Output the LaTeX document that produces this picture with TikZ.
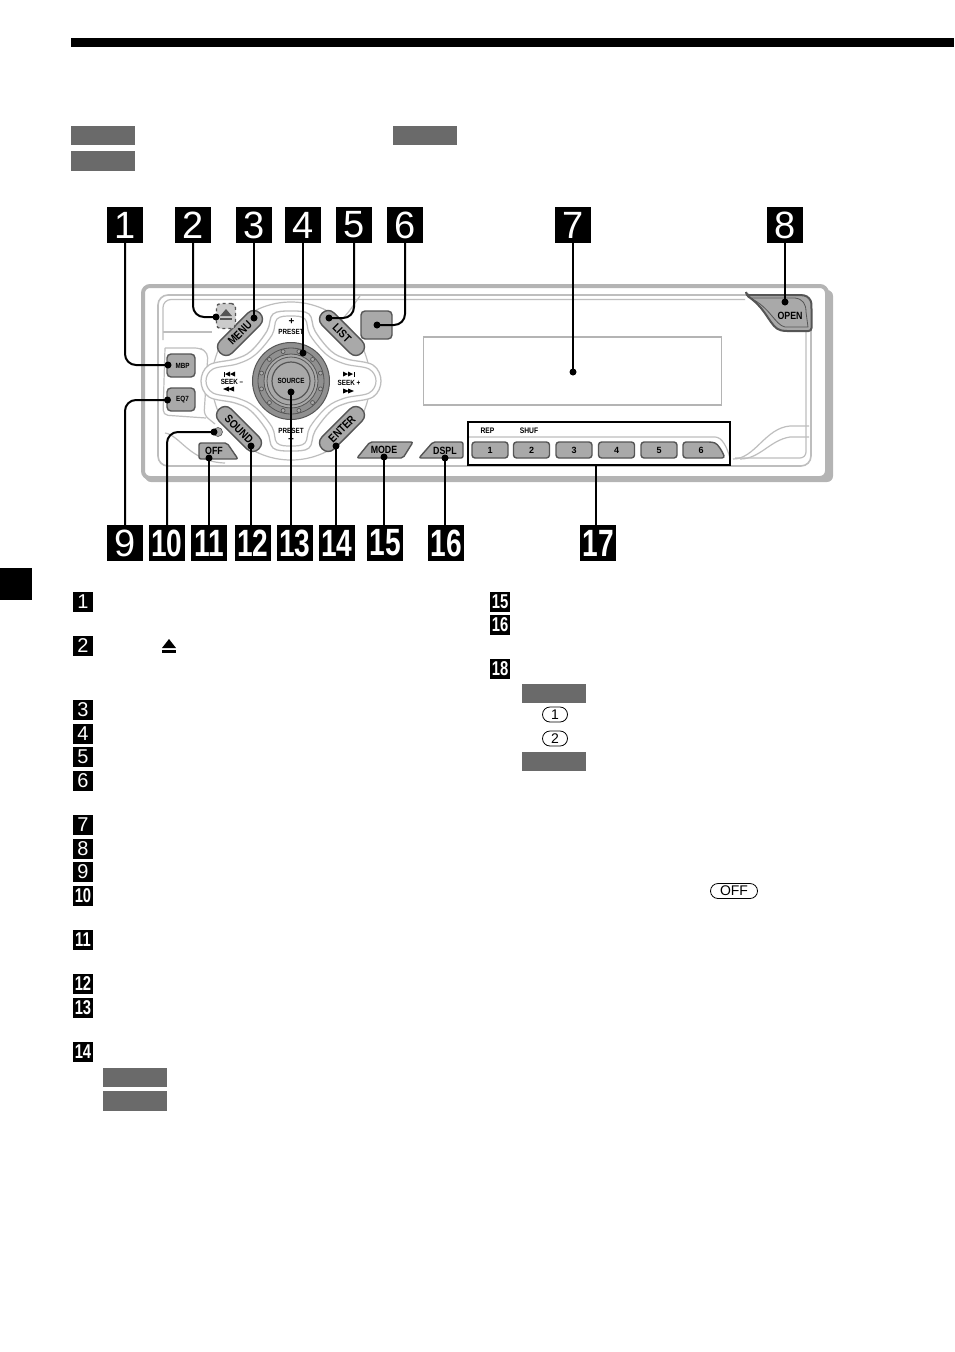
\documentclass[tikz,border=0pt]{standalone}
\usepackage{fontspec}
\setmainfont{Liberation Sans}
\usetikzlibrary{calc}
\definecolor{bandgrey}{HTML}{6A6A6A}
\definecolor{keygrey}{HTML}{A9A9A9}
\definecolor{keyedge}{HTML}{555555}
\definecolor{framegrey}{HTML}{B4B4B4}
\definecolor{linegrey}{HTML}{BEBEBE}
\tikzset{
  bigtag/.style={fill=black,text=white,inner sep=0pt,minimum size=36pt,font=\fontsize{38}{38}\selectfont},
  smalltag/.style={fill=black,text=white,inner sep=0pt,minimum size=20pt,font=\fontsize{20}{20}\selectfont},
  band/.style={fill=bandgrey,draw=none,inner sep=0pt,minimum width=64pt,minimum height=19pt},
  lead/.style={line width=2pt,black,rounded corners=11pt},
  dot/.style={circle,fill=black,inner sep=0pt,minimum size=7pt},
  trim/.style={draw=linegrey,line width=1.2pt},
  keyface/.style={fill=keygrey,draw=keyedge,line width=1.4pt},
  leaf/.style={keyface,rounded corners=8pt,minimum width=56pt,minimum height=17pt,inner sep=0pt,font=\bfseries\fontsize{11.5}{11.5}\selectfont},
  numkey/.style={keyface,rounded corners=3pt,minimum width=36pt,minimum height=16pt,inner sep=0pt,font=\bfseries\fontsize{9}{9}\selectfont},
  sidekey/.style={keyface,rounded corners=4pt,minimum width=28pt,minimum height=23pt,inner sep=0pt},
  keylabel/.style={inner sep=0pt,font=\bfseries\fontsize{10.5}{10.5}\selectfont},
  sidelabel/.style={inner sep=0pt,font=\bfseries\fontsize{7.5}{7.5}\selectfont},
  tiny/.style={inner sep=0pt,font=\bfseries\fontsize{7.5}{7.5}\selectfont},
  pill/.style={draw=black,line width=.8pt,rounded corners=7.5pt,minimum height=15pt,inner sep=0pt,font=\fontsize{14}{14}\selectfont}
}
\newcommand{\twod}[1]{\scalebox{.74}[1]{\bfseries #1}}
\newcommand{\nar}[1]{\scalebox{.84}[1]{#1}}
\begin{document}
\begin{tikzpicture}[x=1pt,y=-1pt]
\useasboundingbox (0,0) rectangle (954,1352);
% page furniture
\fill[black] (71,38) rectangle (954,47);
\fill[black] (0,568) rectangle (32,600);
\node[band] (b1) at (103,135.5) {};
\node[band] (b2) at (425,135.5) {};
\node[band,minimum height=20pt] (b3) at (103,161) {};
\node[band] (b4) at (135,1077.5) {};
\node[band,minimum height=20pt] (b5) at (135,1101) {};
\node[band] (b6) at (554,693.5) {};
\node[band] (b7) at (554,761.5) {};
% device frame
\fill[framegrey,rounded corners=6pt] (145,290) rectangle (833,482);
\draw[framegrey,line width=4pt,fill=white,rounded corners=7pt] (143,286) rectangle (827,478);
\draw[trim,line width=1.6pt,rounded corners=10pt] (158,295) rectangle (811,466);
\draw[trim,rounded corners=8pt] (163,340) -- (163,299.5) -- (745,299.5);
\draw[trim,rounded corners=6pt] (806,332) -- (806,458) -- (735,458);
% decorative trim at lower right
\draw[trim] (733,459) .. controls (755,459) and (765,428) .. (790,426) -- (809,426);
\draw[trim] (740,459) .. controls (760,459) and (770,440) .. (790,437) -- (809,437);
\draw[trim] (468,437) -- (715,437) .. controls (722,437) and (727,447) .. (730,458);
% left side trim
\draw[trim,rounded corners=5pt] (165,348) -- (200,348) -- (208,353) -- (204,415) -- (215,424);
\draw[trim] (163,332) -- (212,332);
\draw[trim,rounded corners=5pt] (165,348) -- (163,415) -- (206,418);
\draw[trim] (165,433) .. controls (180,435) and (190,462) .. (225,463);
\draw[trim] (360,296) .. controls (350,310) and (345,318) .. (338,322);
% central pad
\draw[trim,fill=white] (291,381) circle (79pt);
\draw[trim,fill=white,line width=1.3pt] plot[smooth cycle,tension=.6] coordinates {
 (291,311) (309,314) (315,331) (331,351) (347,359) (373,365) (381,381) (373,397) (347,403)
 (331,411) (315,431) (309,448) (291,451) (273,448) (267,431) (251,411) (235,403) (209,397)
 (201,381) (209,365) (235,359) (251,351) (267,331) (273,314)};
\draw[trim] plot[smooth cycle,tension=.6] coordinates {
 (291,316) (305,319) (310,335) (327,355) (345,364) (369,369) (376,381) (369,393) (345,398)
 (327,407) (310,427) (305,443) (291,446) (277,443) (272,427) (255,407) (237,398) (213,393)
 (206,381) (213,369) (237,364) (255,355) (272,335) (277,319)};
% dial
\draw[keyedge,line width=1pt,fill=keygrey!85!black] (291,381) circle (38.5pt);
\draw[keyedge,line width=.8pt] (291,381) circle (33pt);
\foreach \a in {15,45,...,345} \draw[keyedge,line width=.7pt,fill=keygrey] ($(291,381)+(\a:30.5pt)$) circle (2pt);
\draw[keyedge,line width=.8pt,fill=keygrey] (291,381) circle (27pt);
\draw[keyedge,line width=.8pt] (291,381) circle (24pt);
\node[circle,keyface,minimum size=38pt,inner sep=0pt,line width=1.2pt,tiny] (source) at (291,381) {\nar{SOURCE}};
% leaf keys
\node[leaf,rotate=45] (menu) at (240,333) {\nar{MENU}};
\node[leaf,rotate=-45] (list) at (342,333) {\nar{LIST}};
\node[leaf,rotate=-45] (sound) at (239,429) {\nar{SOUND}};
\node[leaf,rotate=45] (enter) at (342,429) {\nar{ENTER}};
\node[sidekey] (mbp) at (181,365.5) {};
\node[sidelabel] (mbpt) at (182.5,366) {\nar{MBP}};
\node[sidekey] (eq) at (181,399.5) {};
\node[sidelabel] (eqt) at (182.5,400) {\nar{EQ7}};
\node[keyface,rounded corners=4pt,minimum width=31pt,minimum height=28pt,inner sep=0pt] (sq) at (376.5,325) {};
% release, reset
\node[draw=keyedge,dashed,line width=1.4pt,fill=keygrey!60,rounded corners=4pt,minimum width=19pt,minimum height=25pt,inner sep=0pt] (rel) at (226,316) {};
\fill[keyedge] (220,316) -- (226,309) -- (232,316) -- cycle;
\fill[keyedge] (220,318) rectangle (232,320);
\node[circle,fill=keygrey,draw=keyedge,line width=.6pt,minimum size=9pt,inner sep=0pt] (reset) at (218,432) {};
% sloped keys
\draw[keyface,rounded corners=2pt] (199,443) -- (227,443) -- (238,459) -- (199,459) -- cycle;
\node[keylabel] (off) at (214,451) {\nar{OFF}};
\draw[keyface,rounded corners=2pt] (357,458) -- (370,442) -- (413,442) -- (403,458) -- cycle;
\node[keylabel] (mode) at (384,450) {\nar{MODE}};
\draw[keyface,rounded corners=2pt] (419,458) -- (433,442) -- (463,442) -- (463,458) -- cycle;
\node[keylabel] (dspl) at (445,450.5) {\nar{DSPL}};
\draw[keyface,line width=2pt,rounded corners=3pt] (746,295) -- (801,295) .. controls (808,296) and (811,300) .. (811.5,306) -- (811.5,331) -- (784,331) .. controls (770,328) and (768,310) .. cycle;
\draw[keyedge,line width=.8pt] (750,298) -- (795,298) .. controls (803,299) and (806,304) .. (806,312) -- (808,327) -- (785,327) .. controls (775,325) and (770,307) .. (750,298);
\node[keylabel] (open) at (790,315.5) {\nar{OPEN}};
% display
\node[draw=framegrey,line width=1.2pt,minimum width=298pt,minimum height=68pt,inner sep=0pt] (display) at (572.5,371) {};
% number keys
\node[numkey] (n1) at (490,450) {1};
\node[numkey] (n2) at (531.5,450) {2};
\node[numkey] (n3) at (574,450) {3};
\node[numkey] (n4) at (616.5,450) {4};
\node[numkey] (n5) at (659,450) {5};
\draw[keyface,rounded corners=3pt] (683,442) -- (712,442) .. controls (718,444) and (722,451) .. (725,458) -- (683,458) -- cycle;
\node[inner sep=0pt,font=\bfseries\fontsize{9}{9}\selectfont] (n6) at (701,450) {6};
\node[draw=black,line width=1.6pt,minimum width=262pt,minimum height=43pt,inner sep=0pt] (keys) at (599,443.5) {};
\node[tiny,font=\bfseries\fontsize{8}{8}\selectfont] (rep) at (487.5,431) {\nar{REP}};
\node[tiny,font=\bfseries\fontsize{8}{8}\selectfont] (shuf) at (529,431) {\nar{SHUF}};
% pad labels
\node[inner sep=0pt,font=\bfseries\fontsize{10}{10}\selectfont] (pplus) at (291.5,322) {+};
\node[tiny] (ptop) at (291,332) {\nar{PRESET}};
\node[tiny] (pbot) at (291,431) {\nar{PRESET}};
\node[inner sep=0pt,font=\bfseries\fontsize{10}{10}\selectfont] (pminus) at (291,440) {+};
\node[tiny] (sl) at (232,382) {\nar{SEEK –}};
\node[tiny] (sr) at (349,383) {\nar{SEEK +}};
\foreach \cx/\cy in {231/389,226/389} \fill (\cx-3,\cy) -- (\cx+3,\cy-2.5) -- (\cx+3,\cy+2.5) -- cycle;
\foreach \cx/\cy in {231/374,226/374} \fill (\cx-1,\cy) -- (\cx+4,\cy-2.5) -- (\cx+4,\cy+2.5) -- cycle;
\fill (224,371.5) rectangle (225,376.5);
\foreach \cx/\cy in {346/391,351/391} \fill (\cx+3,\cy) -- (\cx-3,\cy-2.5) -- (\cx-3,\cy+2.5) -- cycle;
\foreach \cx/\cy in {346/374,351/374} \fill (\cx+2,\cy) -- (\cx-3,\cy-2.5) -- (\cx-3,\cy+2.5) -- cycle;
\fill (354,371.5) rectangle (355,376.5);
% big tags
\foreach \n/\cx in {1/125,2/193,3/254,4/303,5/354,6/405,7/573,8/785}
  \node[bigtag] (t\n) at (\cx,225) {\n};
\node[bigtag] (t9) at (125,543) {9};
\foreach \n/\cx in {10/167,11/209,12/253,13/295,14/337,15/385,16/446,17/598}
  \node[bigtag] (t\n) at (\cx,543) {\twod{\n}};
% lead ends
\node[dot] (d1) at (168,365) {};
\node[dot] (d2) at (216,317) {};
\node[dot] (d3) at (254,318) {};
\node[dot] (d4) at (303,353) {};
\node[dot] (d5) at (329,318) {};
\node[dot] (d6) at (377,325) {};
\node[dot] (d7) at (573,372) {};
\node[dot] (d8) at (785,302) {};
\node[dot] (d9) at (167.5,400) {};
\node[dot] (d10) at (214,432) {};
\node[dot] (d11) at (209,458) {};
\node[dot] (d12) at (251,446) {};
\node[dot] (d13) at (291,392) {};
\node[dot] (d14) at (336,446) {};
\node[dot] (d15) at (384,457) {};
\node[dot] (d16) at (445,458) {};
\coordinate (k17) at (596,465);
% leads
\draw[lead] (t1.south) |- (d1.center);
\draw[lead] (t2.south) |- (d2.center);
\draw[lead] (t3.south) -- (d3.center);
\draw[lead] (t4.south) -- (d4.center);
\draw[lead] (t5.south) |- (d5.center);
\draw[lead] (t6.south) |- (d6.center);
\draw[lead] (t7.south) -- (d7.center);
\draw[lead] (t8.south) -- (d8.center);
\draw[lead] (t9.north) |- (d9.center);
\draw[lead] (t10.north) |- (d10.center);
\draw[lead] (t11.north) -- (d11.center);
\draw[lead] (d12.center) -- (d12 |- t12.north);
\draw[lead] (d13.center) -- (d13 |- t13.north);
\draw[lead] (d14.center) -- (d14 |- t14.north);
\draw[lead] (d15.center) -- (d15 |- t15.north);
\draw[lead] (d16.center) -- (d16 |- t16.north);
\draw[lead] (k17) -- (k17 |- t17.north);
% legend tags
\foreach \n/\cy in {1/602,2/646,3/710,4/734,5/757,6/781,7/825,8/849,9/872}
  \node[smalltag] (s\n) at (83,\cy) {\n};
\foreach \n/\cy in {10/896,11/940,12/984,13/1008,14/1052}
  \node[smalltag] (s\n) at (83,\cy) {\twod{\n}};
\foreach \n/\cy in {15/602,16/625,18/669}
  \node[smalltag] (s\n) at (500,\cy) {\twod{\n}};
% eject glyph
\fill (162,648) -- (169,639) -- (176,648) -- cycle;
\fill (162,650) rectangle (176,653);
% pills
\node[pill,minimum width=25pt] (p1) at (555,714.5) {1};
\node[pill,minimum width=25pt] (p2) at (555,738.5) {2};
\node[pill,minimum width=47pt] (poff) at (734,891) {OFF};
\end{tikzpicture}
\end{document}
